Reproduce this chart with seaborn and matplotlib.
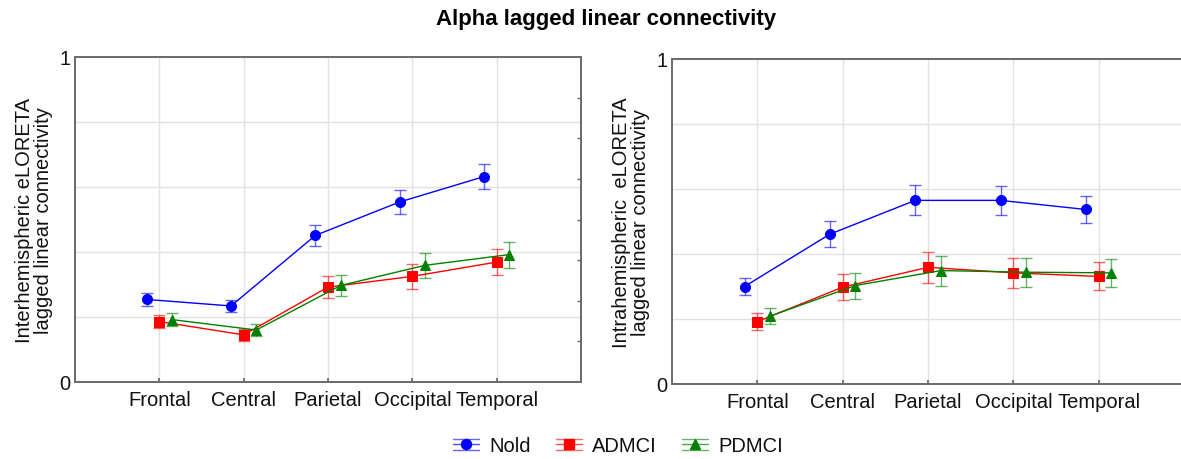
import numpy as np
import pandas as pd
import matplotlib
matplotlib.use("Agg")
import matplotlib.pyplot as plt
import seaborn as sns
from matplotlib.lines import Line2D
from matplotlib.legend_handler import HandlerBase
from matplotlib.ticker import FixedLocator, MultipleLocator

# ---------------- data ----------------
regions = ["Frontal", "Central", "Parietal", "Occipital", "Temporal"]
groups = ["Nold", "ADMCI", "PDMCI"]

inter_nold = [0.254, 0.234, 0.451, 0.554, 0.632]
inter_nold_se = [0.019, 0.019, 0.033, 0.037, 0.038]
inter_admci = [0.186, 0.145, 0.292, 0.325, 0.369]
inter_admci_se = [0.020, 0.019, 0.033, 0.038, 0.040]
inter_pdmci = [0.192, 0.160, 0.297, 0.359, 0.392]
inter_pdmci_se = [0.020, 0.019, 0.033, 0.039, 0.040]

intra_nold = [0.300, 0.461, 0.565, 0.565, 0.537]
intra_nold_se = [0.026, 0.040, 0.046, 0.045, 0.041]
intra_admci = [0.192, 0.298, 0.359, 0.342, 0.331]
intra_admci_se = [0.026, 0.040, 0.047, 0.046, 0.043]
intra_pdmci = [0.209, 0.303, 0.349, 0.344, 0.342]
intra_pdmci_se = [0.025, 0.040, 0.046, 0.045, 0.042]

title = "Alpha lagged linear connectivity"
ylabel_left = "Interhemispheric eLORETA\nlagged linear connectivity"
ylabel_right = "Intrahemispheric  eLORETA\nlagged linear connectivity"

colors = {"Nold": "#0000ff", "ADMCI": "#ff0000", "PDMCI": "#008000"}
markers = {"Nold": "o", "ADMCI": "s", "PDMCI": "^"}

# ---------------- style ----------------
sns.set_theme(style="white")
plt.rcParams["font.family"] = ["Liberation Sans", "DejaVu Sans"]
plt.rcParams["axes.edgecolor"] = "#6a6a6a"
plt.rcParams["axes.linewidth"] = 1.4
plt.rcParams["text.color"] = "#111111"
plt.rcParams["axes.labelcolor"] = "#111111"
plt.rcParams["xtick.color"] = "#111111"
plt.rcParams["ytick.color"] = "#111111"

fig = plt.figure(figsize=(11.81, 4.60), dpi=100)
ax1 = fig.add_axes([75 / 1181, 1 - 383 / 460, 506 / 1181, 325 / 460])
ax2 = fig.add_axes([672 / 1181, 1 - 385 / 460, 512 / 1181, 325 / 460])


def panel(ax, means, ses, ylabel, right_ticks):
    df = pd.DataFrame({
        "Region": regions * len(groups),
        "Group": np.repeat(groups, len(regions)),
        "Value": np.concatenate(means),
    })
    sns.pointplot(data=df, x="Region", y="Value", hue="Group",
                  order=regions, hue_order=groups, palette=colors,
                  markers=[markers[g] for g in groups], linestyles="-",
                  dodge=0.3, errorbar=None, legend=False, ax=ax,
                  markersize=7.2, linewidth=1.0)
    for line, g, se in zip(ax.lines[:len(groups)], groups, ses):
        ax.errorbar(line.get_xdata(), line.get_ydata(), yerr=se, fmt="none",
                    ecolor=colors[g], alpha=0.6, elinewidth=1.0,
                    capsize=4, capthick=1.0, zorder=line.get_zorder() - 0.1)
    ax.set_xlim(-1, 5)
    ax.set_ylim(0, 1)
    ax.yaxis.set_major_locator(FixedLocator([0, 0.2, 0.4, 0.6, 0.8, 1.0]))
    ax.set_yticklabels(["0", "", "", "", "", "1"])
    ax.grid(True, color="#e2e2e2", linewidth=1.0)
    ax.set_axisbelow(True)
    ax.tick_params(axis="y", length=0, pad=3, labelsize=14.5)
    ax.tick_params(axis="x", length=3, direction="in", pad=6,
                   labelsize=14.5, bottom=True, color="#6a6a6a")
    if right_ticks:
        ax.yaxis.set_minor_locator(MultipleLocator(0.125))
        ax.tick_params(axis="y", which="minor", left=False, right=True,
                       direction="in", length=3, color="#6a6a6a")
    ax.set_xlabel("")
    ax.set_ylabel(ylabel, fontsize=14.5, linespacing=1.05, labelpad=4.5)
    for s in ax.spines.values():
        s.set_visible(True)


panel(ax1, [inter_nold, inter_admci, inter_pdmci],
      [inter_nold_se, inter_admci_se, inter_pdmci_se], ylabel_left, True)
panel(ax2, [intra_nold, intra_admci, intra_pdmci],
      [intra_nold_se, intra_admci_se, intra_pdmci_se], ylabel_right, False)

fig.text(606 / 1181, 1 - 19 / 460, title, ha="center", va="center",
         fontsize=16, fontweight="bold", color="black")


class ErrHandler(HandlerBase):
    def create_artists(self, legend, orig, xdescent, ydescent, width, height,
                       fontsize, trans):
        c = orig.get_color()
        cy = height / 2 - ydescent
        x0, x1 = -xdescent, width - xdescent
        h = height * 0.42
        arts = [
            Line2D([x0, x1], [cy, cy], color=c, lw=1.0, alpha=0.7),
            Line2D([x0, x1], [cy + h, cy + h], color=c, lw=1.0, alpha=0.6),
            Line2D([x0, x1], [cy - h, cy - h], color=c, lw=1.0, alpha=0.6),
            Line2D([(x0 + x1) / 2], [cy], color=c, marker=orig.get_marker(),
                   markersize=orig.get_markersize(), linestyle="none"),
        ]
        for a in arts:
            a.set_transform(trans)
        return arts


handles = [Line2D([], [], color=colors[g], marker=markers[g], markersize=7.2)
           for g in groups]
fig.legend(handles, groups, loc="center", bbox_to_anchor=(618 / 1181, 1 - 447 / 460),
           ncol=3, frameon=False, fontsize=14.5, handlelength=1.3,
           handletextpad=0.5, columnspacing=1.25,
           handler_map={Line2D: ErrHandler()})

fig.savefig("out.png", dpi=100)
